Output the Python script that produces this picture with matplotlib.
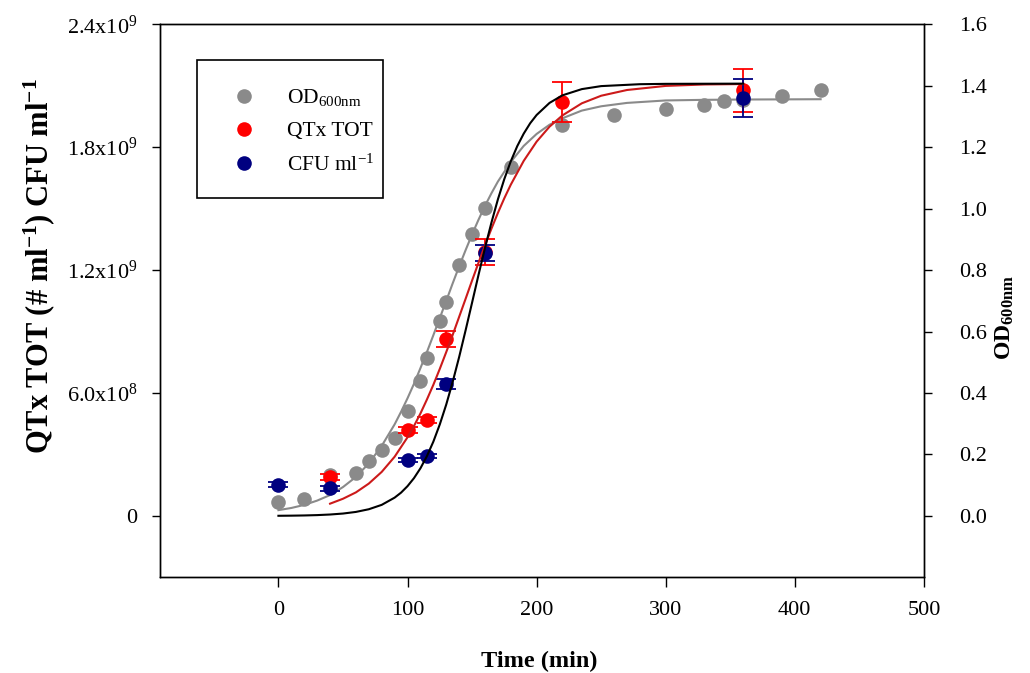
import matplotlib
matplotlib.use('Agg')
import matplotlib.pyplot as plt
from matplotlib.lines import Line2D
from matplotlib.patches import Rectangle

# fonts (Times-like)
plt.rcParams['font.family'] = ['Liberation Serif', 'DejaVu Serif']
plt.rcParams['mathtext.fontset'] = 'custom'
plt.rcParams['mathtext.rm'] = 'Liberation Serif'
plt.rcParams['mathtext.it'] = 'Liberation Serif:italic'
plt.rcParams['mathtext.bf'] = 'Liberation Serif:bold'

# OD600 measurements (right axis)
od_time = [0, 20, 40, 60, 70, 80, 90, 100, 110, 115, 125, 130, 140, 150,
           160, 180, 220, 260, 300, 330, 345, 360, 390, 420]
od_value = [0.047, 0.054, 0.133, 0.141, 0.179, 0.215, 0.253, 0.342, 0.438,
            0.514, 0.633, 0.695, 0.818, 0.916, 1.001, 1.137, 1.271, 1.306,
            1.325, 1.336, 1.350, 1.355, 1.365, 1.387]

# QTx TOT counts (left axis)
qtx_time = [40, 100, 115, 130, 160, 220, 360]
qtx_value = [1.91e8, 4.19e8, 4.68e8, 8.64e8, 1.29e9, 2.02e9, 2.077e9]
qtx_err = [1.5e7, 1.5e7, 1.5e7, 4.0e7, 6.4e7, 9.8e7, 1.03e8]

# CFU counts (left axis)
cfu_time = [0, 40, 100, 115, 130, 160, 360]
cfu_value = [1.52e8, 1.35e8, 2.74e8, 2.93e8, 6.44e8, 1.285e9, 2.04e9]
cfu_err = [1.2e7, 1.2e7, 1.0e7, 1.0e7, 2.5e7, 3.9e7, 9.3e7]

# fitted curves
od_fit_time = [0, 10, 20, 30, 40, 50, 60, 70, 80, 90, 95, 100, 105, 110,
               115, 120, 125, 130, 135, 140, 145, 150, 155, 160, 165, 170,
               180, 190, 200, 210, 220, 235, 250, 270, 300, 330, 360, 420]
od_fit_value = [0.019, 0.026, 0.036, 0.050, 0.068, 0.094, 0.127, 0.171,
                0.228, 0.298, 0.339, 0.383, 0.430, 0.481, 0.533, 0.588,
                0.644, 0.700, 0.757, 0.812, 0.865, 0.916, 0.964, 1.009,
                1.050, 1.088, 1.152, 1.204, 1.243, 1.273, 1.294, 1.319,
                1.333, 1.344, 1.352, 1.354, 1.355, 1.356]

qtx_fit_time = [40, 50, 60, 70, 80, 90, 100, 105, 110, 115, 120, 125, 130,
                135, 140, 145, 150, 155, 160, 165, 170, 175, 180, 190, 200,
                210, 220, 235, 250, 270, 300, 330, 360]
qtx_fit_value = [0.060e9, 0.084e9, 0.115e9, 0.158e9, 0.215e9, 0.289e9,
                 0.384e9, 0.439e9, 0.500e9, 0.568e9, 0.640e9, 0.718e9,
                 0.800e9, 0.884e9, 0.972e9, 1.060e9, 1.149e9, 1.236e9,
                 1.321e9, 1.402e9, 1.479e9, 1.551e9, 1.617e9, 1.733e9,
                 1.827e9, 1.900e9, 1.955e9, 2.014e9, 2.051e9, 2.079e9,
                 2.099e9, 2.106e9, 2.108e9]

cfu_fit_time = [0, 10, 20, 30, 40, 50, 60, 70, 80, 90, 95, 100, 105, 110,
                115, 120, 125, 130, 135, 140, 145, 150, 155, 160, 165, 170,
                175, 180, 185, 190, 195, 200, 210, 220, 235, 250, 280, 300,
                360]
cfu_fit_value = [0.0009e9, 0.0015e9, 0.0025e9, 0.0042e9, 0.0071e9,
                 0.0118e9, 0.0197e9, 0.0328e9, 0.0542e9, 0.0894e9,
                 0.1139e9, 0.1455e9, 0.1846e9, 0.2326e9, 0.2917e9,
                 0.3626e9, 0.4468e9, 0.544e9, 0.6546e9, 0.776e9, 0.9064e9,
                 1.041e9, 1.1768e9, 1.308e9, 1.4318e9, 1.545e9, 1.6448e9,
                 1.731e9, 1.805e9, 1.866e9, 1.9166e9, 1.957e9, 2.016e9,
                 2.053e9, 2.0833e9, 2.098e9, 2.1073e9, 2.109e9, 2.11e9]

left_ticks = [0, 6.0e8, 1.2e9, 1.8e9, 2.4e9]
left_labels = ['0', '6.0x10$^8$', '1.2x10$^9$', '1.8x10$^9$', '2.4x10$^9$']
right_ticks = [0.0, 0.2, 0.4, 0.6, 0.8, 1.0, 1.2, 1.4, 1.6]
x_ticks = [0, 100, 200, 300, 400, 500]

GRAY = '#8a8a8a'
RED = '#ff0000'
RED_LINE = '#cc1a1a'
NAVY = '#000080'
MS = 10.5

fig = plt.figure(figsize=(10.30, 6.73), dpi=100)
ax1 = fig.add_axes([0.155, 0.142, 0.742, 0.822])
ax2 = ax1.twinx()
ax1.set_zorder(ax2.get_zorder() + 1)
ax1.patch.set_visible(False)

# OD on right axis
ax2.plot(od_time, od_value, 'o', color=GRAY, ms=MS, mec='none', zorder=2)
ax2.plot(od_fit_time, od_fit_value, '-', color=GRAY, lw=1.5, zorder=3)

# QTx and CFU on left axis
ax1.errorbar(qtx_time, qtx_value, yerr=qtx_err, fmt='none', ecolor=RED,
             elinewidth=1.3, capsize=7, capthick=1.3, zorder=2)
ax1.plot(qtx_time, qtx_value, 'o', color=RED, ms=MS, mec='none', zorder=3)
ax1.errorbar(cfu_time, cfu_value, yerr=cfu_err, fmt='none', ecolor=NAVY,
             elinewidth=1.3, capsize=7, capthick=1.3, zorder=4)
ax1.plot(cfu_time, cfu_value, 'o', color=NAVY, ms=MS, mec='none', zorder=5)
ax1.plot(qtx_fit_time, qtx_fit_value, '-', color=RED_LINE, lw=1.5, zorder=6)
ax1.plot(cfu_fit_time, cfu_fit_value, '-', color='black', lw=1.5, zorder=6)

ax1.set_xlim(-92, 500)
ax1.set_ylim(-3e8, 2.4e9)
ax2.set_ylim(-0.2, 1.6)

ax1.set_xticks(x_ticks)
ax1.set_yticks(left_ticks)
ax1.set_yticklabels(left_labels)
ax2.set_yticks(right_ticks)
ax2.set_yticklabels(['%.1f' % v for v in right_ticks])

ax1.tick_params(axis='x', direction='out', length=7, width=1, pad=10, labelsize=16)
ax1.tick_params(axis='y', direction='out', length=6, width=1, pad=10, labelsize=16)
ax2.tick_params(axis='y', direction='out', length=6, width=1, pad=19, labelsize=16)

for ax in (ax1, ax2):
    for sp in ax.spines.values():
        sp.set_linewidth(1.0)

ax1.set_xlabel('Time (min)', fontsize=17.5, fontweight='bold')
ax1.xaxis.set_label_coords(0.497, -0.132)
ax1.set_ylabel('QTx TOT (# ml$^{\\mathbf{-1}}$) CFU ml$^{\\mathbf{-1}}$',
               fontsize=22, fontweight='bold')
ax1.yaxis.set_label_coords(-0.134, 0.562)
ax2.set_ylabel('OD$_{\\mathbf{600nm}}$', fontsize=17, fontweight='bold')
ax2.yaxis.set_label_coords(1.091, 0.47)

# legend: frame drawn as a box, entries without frame
ax1.add_patch(Rectangle((0.0484, 0.6854), 0.2435, 0.2496, transform=ax1.transAxes,
                        fill=False, edgecolor='black', lw=1.2, zorder=9,
                        clip_on=False))
handles = [
    Line2D([], [], marker='o', ls='none', color=GRAY, ms=MS, mec='none'),
    Line2D([], [], marker='o', ls='none', color=RED, ms=MS, mec='none'),
    Line2D([], [], marker='o', ls='none', color=NAVY, ms=MS, mec='none'),
]
labels = ['OD$_{\\mathrm{600nm}}$', 'QTx TOT', 'CFU ml$^{\\mathrm{-1}}$']
leg = ax1.legend(handles, labels, loc='upper left',
                 bbox_to_anchor=(0.048, 0.929), borderaxespad=0,
                 fontsize=15.5, frameon=False,
                 handletextpad=0.87, labelspacing=0.61, borderpad=1.1,
                 handlelength=2.26)
leg.set_zorder(10)

fig.savefig('out.png', dpi=100)
